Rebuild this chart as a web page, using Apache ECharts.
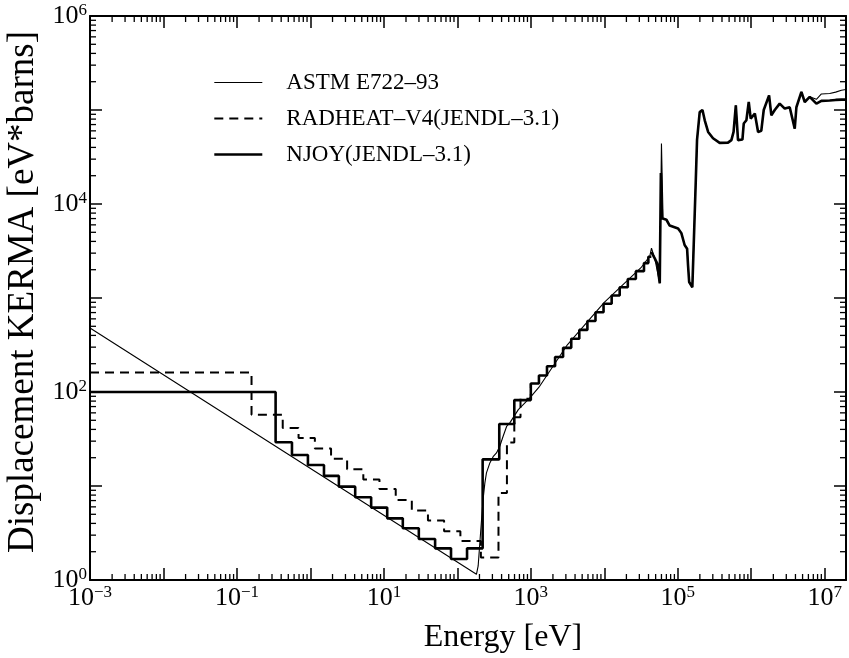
<!DOCTYPE html>
<html>
<head>
<meta charset="utf-8">
<title>Displacement KERMA</title>
<script src="https://cdn.jsdelivr.net/npm/echarts@6/dist/echarts.min.js"></script>
<style>
html, body { margin: 0; padding: 0; background: #fff; }
#chart { width: 849px; height: 658px; }
</style>
</head>
<body>
<div id="chart"></div>
<script>
// energies in eV, KERMA in eV*barns
const astmE = [0.001, 182, 192, 207, 224, 237, 249, 277, 307, 341, 378, 420, 468, 518, 676, 977, 1318, 3162, 10000, 31600,
  41700, 43900, 48600, 56900, 60000, 63100, 70100, 77600, 101000, 112000, 124000, 134000, 138000, 143000, 158000,
  168000, 176000, 183000, 199000, 217000, 233000, 259000, 302000, 372000, 483000, 537000, 575000, 617000, 661000,
  759000, 791000, 859000, 925000, 984000, 1.12e6, 1.24e6, 1.37e6, 1.48e6, 1.75e6, 1.88e6, 2.09e6, 2.44e6, 2.86e6,
  3.34e6, 3.91e6, 4.12e6, 4.82e6, 5.35e6, 6.25e6, 7.71e6, 9.02e6, 1.17e7, 1.41e7, 1.69e7, 1.95e7]
const astmK = [480, 1.15, 1.41, 3.16, 7.2, 10.8, 13.8, 17.6, 20.5, 22.5, 26.5, 33.8, 43, 46.9, 65, 87, 115, 320, 900, 2100,
  2800, 3390, 2640, 1435, 44000, 7050, 6800, 5900, 5500, 4900, 3660, 3350, 2240, 1480, 1300,
  1300, 17900, 48000, 95000, 100000, 77700, 58400, 50000, 44700, 45000, 47800, 58400, 112000, 47800,
  48500, 71800, 77700, 121600, 81000, 91800, 58400, 60000, 100000, 143000, 87800, 100000, 117000, 103500,
  107000, 63300, 107000, 156000, 121600, 138000, 130000, 148000, 150000, 155000, 162000, 165000]

// group-wise (step) data: value holds from E[i] to E[i+1]
const radheatE = [0.001, 0.158, 0.42, 0.69, 1.15, 1.91, 3.16, 5.25, 8.71, 14.5, 24.0, 39.8, 66, 110, 209, 363, 473, 596, 724, 1000]
const radheatK = [161, 57.4, 41.5, 32.5, 25.1, 19.5, 15.1, 11.7, 9.3, 7.1, 5.5, 4.3, 3.3, 2.6, 1.74, 8.4, 29, 54, 85, 123]

const njoyE = [0.001, 0.336, 0.561, 0.925, 1.53, 2.44, 4.07, 6.71, 11.1, 18.1, 29.9, 49.8, 82, 135.5, 221, 372, 596, 1000,
  1290, 1660, 2140, 2750, 3550, 4570, 5890, 7590, 9770, 12600, 16200, 20900, 26900, 34700, 39800, 43700]
const njoyK = [100, 29.2, 21.4, 16.7, 12.8, 9.84, 7.59, 5.89, 4.53, 3.55, 2.73, 2.17, 1.67, 2.17, 19.2, 45.7, 82, 123,
  150, 188, 236, 295, 368, 458, 570, 705, 870, 1065, 1300, 1590, 1930, 2350, 2750, 2750]

// above ~40 keV the NJOY curve is drawn as a plain line
const njoyHighE = [43700, 48600, 52500, 56900, 58900, 61000, 70100, 77600, 101000, 112000, 124000, 134000, 138000, 143000,
  158000, 168000, 176000, 183000, 199000, 217000, 233000, 259000, 302000, 372000, 483000, 537000, 575000, 617000,
  661000, 759000, 791000, 859000, 925000, 984000, 1.12e6, 1.24e6, 1.37e6, 1.48e6, 1.75e6, 1.88e6, 2.09e6, 2.44e6,
  2.86e6, 3.34e6, 3.91e6, 4.12e6, 4.82e6, 5.35e6, 6.25e6, 7.71e6, 9.02e6, 1.17e7, 1.41e7, 1.69e7, 1.95e7]
const njoyHighK = [3100, 2640, 2340, 1435, 21400, 7050, 6800, 5900, 5500, 4900, 3660, 3350, 2240, 1480,
  1300, 1260, 17900, 48000, 95000, 100000, 77700, 58400, 50000, 44700, 45000, 47800, 58400, 112000,
  47800, 48500, 71800, 77700, 121600, 81000, 91800, 58400, 60000, 100000, 143000, 87800, 100000, 117000,
  103500, 107000, 63300, 107000, 156000, 121600, 138000, 117000, 125000, 126000, 128000, 129000, 129000]

// decade exponents that carry a label
const xLabelExps = [-3, -1, 1, 3, 5, 7]
const yLabelExps = [0, 2, 4, 6]

const seriesNames = ['ASTM E722\u201393', 'RADHEAT\u2013V4(JENDL\u20133.1)', 'NJOY(JENDL\u20133.1)']

const FONT = 'Liberation Serif'
const X_MIN = -3
const X_MAX = 7.29
const Y_MIN = 0
const Y_MAX = 6

const thinLine = { color: '#000', width: 1.1 }
const dashLine = { color: '#000', width: 2, type: [9, 6] }
const thickLine = { color: '#000', width: 2.6 }

const toLog = (es, ks) => es.map((e, i) => [Math.log10(e), Math.log10(ks[i])])

// minor log ticks (2..9 of each decade)
const minorTicks = []
for (let n = X_MIN; n < X_MAX; n++) {
  for (let k = 2; k <= 9; k++) {
    const v = n + Math.log10(k)
    if (v < X_MAX) minorTicks.push([v, Y_MIN, 0])
  }
}
for (let n = Y_MIN; n < Y_MAX; n++) {
  for (let k = 2; k <= 9; k++) {
    minorTicks.push([X_MIN, n + Math.log10(k), 1])
  }
}

const supLabel = (exps) => (value) => {
  const r = Math.round(value)
  if (Math.abs(value - r) > 1e-6 || !exps.includes(r)) return ''
  return '{b|10}{s|' + String(r).replace('-', '\u2212') + '}'
}

const labelRich = {
  b: { fontFamily: FONT, fontSize: 26, color: '#000', lineHeight: 28 },
  s: { fontFamily: FONT, fontSize: 17, color: '#000', verticalAlign: 'top', lineHeight: 18 }
}

const axisLine = { show: true, onZero: false, lineStyle: { color: '#000', width: 2 } }
const majorTick = { show: true, inside: true, length: 12, lineStyle: { color: '#000', width: 1.5 } }

const chart = echarts.init(document.getElementById('chart'))

const option = {
  animation: false,
  backgroundColor: '#fff',
  grid: { left: 90, right: 3, top: 16, bottom: 78, containLabel: false, outerBoundsMode: 'none' },
  legend: {
    data: [
      { name: seriesNames[0], lineStyle: thinLine },
      { name: seriesNames[1], lineStyle: dashLine },
      { name: seriesNames[2], lineStyle: thickLine }
    ],
    orient: 'vertical',
    left: 213,
    top: 71,
    padding: 0,
    itemWidth: 48,
    itemHeight: 14,
    itemGap: 13,
    itemStyle: { opacity: 0 },
    textStyle: { fontFamily: FONT, fontSize: 23, color: '#000', padding: [0, 0, 0, 19] }
  },
  xAxis: [
    {
      type: 'value', min: X_MIN, max: X_MAX, interval: 1, position: 'bottom',
      axisLine, axisTick: majorTick, splitLine: { show: false },
      axisLabel: { margin: 4, formatter: supLabel(xLabelExps), rich: labelRich },
      name: 'Energy [eV]', nameLocation: 'middle', nameGap: 42,
      nameTextStyle: { fontFamily: FONT, fontSize: 32, color: '#000', padding: [0, 0, 0, 70] }
    },
    {
      type: 'value', min: X_MIN, max: X_MAX, interval: 1, position: 'top',
      axisLine, axisTick: majorTick, splitLine: { show: false }, axisLabel: { show: false }
    }
  ],
  yAxis: [
    {
      type: 'value', min: Y_MIN, max: Y_MAX, interval: 1, position: 'left',
      axisLine, axisTick: majorTick, splitLine: { show: false },
      axisLabel: { margin: 3, formatter: supLabel(yLabelExps), rich: labelRich },
      name: 'Displacement KERMA [eV*barns]', nameLocation: 'middle', nameGap: 45, nameRotate: 90,
      nameTextStyle: { fontFamily: FONT, fontSize: 37, color: '#000', padding: [0, 0, 0, 12] }
    },
    {
      type: 'value', min: Y_MIN, max: Y_MAX, interval: 1, position: 'right',
      axisLine, axisTick: majorTick, splitLine: { show: false }, axisLabel: { show: false }
    }
  ],
  series: [
    {
      name: seriesNames[1], type: 'line', step: 'end', symbol: 'none', z: 2,
      data: toLog(radheatE, radheatK),
      lineStyle: dashLine, itemStyle: { color: '#000' }
    },
    {
      name: seriesNames[2], type: 'line', step: 'end', symbol: 'none', z: 3,
      data: toLog(njoyE, njoyK),
      lineStyle: thickLine, itemStyle: { color: '#000' }
    },
    {
      name: seriesNames[2], type: 'line', symbol: 'none', z: 3,
      data: toLog(njoyHighE, njoyHighK),
      lineStyle: thickLine, itemStyle: { color: '#000' }
    },
    {
      name: seriesNames[0], type: 'line', symbol: 'none', z: 4,
      data: toLog(astmE, astmK),
      lineStyle: thinLine, itemStyle: { color: '#000' }
    },
    {
      type: 'custom', silent: true, z: 5, clip: false,
      data: minorTicks,
      encode: { x: 0, y: 1 },
      renderItem: (params, api) => {
        const cs = params.coordSys
        const len = 6
        const style = { stroke: '#000', lineWidth: 1.3 }
        if (api.value(2) === 0) {
          const px = api.coord([api.value(0), Y_MIN])[0]
          return {
            type: 'group',
            children: [
              { type: 'line', shape: { x1: px, y1: cs.y + cs.height, x2: px, y2: cs.y + cs.height - len }, style },
              { type: 'line', shape: { x1: px, y1: cs.y, x2: px, y2: cs.y + len }, style }
            ]
          }
        }
        const py = api.coord([X_MIN, api.value(1)])[1]
        return {
          type: 'group',
          children: [
            { type: 'line', shape: { x1: cs.x, y1: py, x2: cs.x + len, y2: py }, style },
            { type: 'line', shape: { x1: cs.x + cs.width, y1: py, x2: cs.x + cs.width - len, y2: py }, style }
          ]
        }
      }
    }
  ]
}

chart.setOption(option)
</script>
</body>
</html>
